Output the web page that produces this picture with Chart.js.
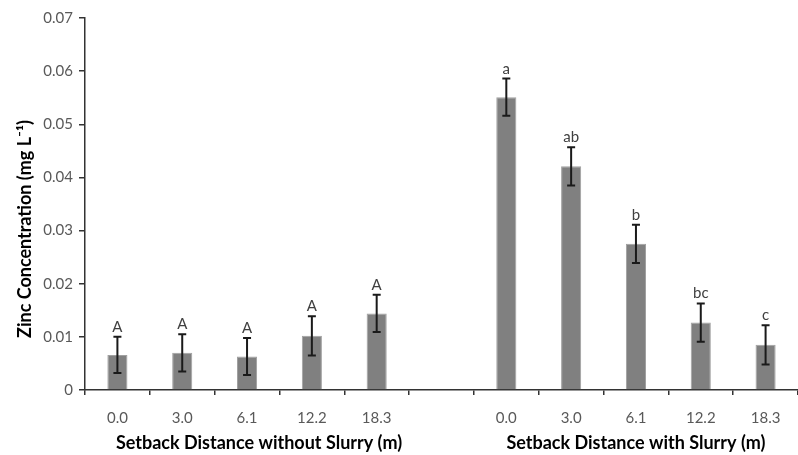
<!DOCTYPE html>
<html>
<head>
<meta charset="utf-8">
<script src="https://cdn.jsdelivr.net/npm/chart.js@4"></script>
<style>
  html, body { margin: 0; padding: 0; background: #fff; overflow: hidden; }
  #wrap { width: 798px; height: 455px; }
</style>
</head>
<body>
<div id="wrap"><canvas id="chart1"></canvas></div>
<script>
const distances = ["0.0","3.0","6.1","12.2","18.3","","0.0","3.0","6.1","12.2","18.3"];
const zinc = [0.0066, 0.0070, 0.0063, 0.0102, 0.0144, null, 0.0551, 0.0421, 0.0275, 0.0127, 0.0085];
const zincErr = [0.0034, 0.0035, 0.0035, 0.0037, 0.0035, null, 0.0035, 0.0036, 0.0036, 0.0036, 0.0037];
const letters = ["A","A","A","A","A","","a","ab","b","bc","c"];
const groupNames = ["Setback Distance without Slurry (m)", "Setback Distance with Slurry (m)"];
const groupRanges = [[0, 4], [6, 10]];
const yTicks = [0, 0.01, 0.02, 0.03, 0.04, 0.05, 0.06, 0.07];
const yTitle = "Zinc Concentration (mg L⁻¹)";

const fontName = "Lato, 'Open Sans', sans-serif";

// error bars, letters, group titles and the y title
const extras = {
  id: "extras",
  afterDatasetsDraw(chart) {
    const ctx = chart.ctx;
    const x = chart.scales.x, y = chart.scales.y;
    ctx.save();
    zinc.forEach((v, i) => {
      if (v == null) return;
      const px = x.getPixelForValue(i);
      const top = y.getPixelForValue(v + zincErr[i]);
      const bot = y.getPixelForValue(v - zincErr[i]);
      ctx.strokeStyle = "#1a1a1a";
      ctx.lineWidth = 2;
      ctx.beginPath();
      ctx.moveTo(px, top); ctx.lineTo(px, bot);
      ctx.moveTo(px - 4, top); ctx.lineTo(px + 4, top);
      ctx.moveTo(px - 4, bot); ctx.lineTo(px + 4, bot);
      ctx.stroke();
      ctx.fillStyle = "#404040";
      ctx.font = "15px " + fontName;
      ctx.textAlign = "center";
      ctx.textBaseline = "alphabetic";
      ctx.fillText(letters[i], px, top - 5);
    });

    ctx.fillStyle = "#000";
    ctx.font = "bold 18px " + fontName;
    ctx.textAlign = "center";
    ctx.textBaseline = "middle";
    const shift = [12, 0];
    groupNames.forEach((name, g) => {
      const [a, b] = groupRanges[g];
      const cx = (x.getPixelForValue(a) + x.getPixelForValue(b)) / 2 + shift[g];
      ctx.fillText(name, cx, 443);
    });

    ctx.translate(25, 229);
    ctx.rotate(-Math.PI / 2);
    ctx.font = "bold 18px " + fontName;
    ctx.fillText(yTitle, 0, 0);
    ctx.restore();
  }
};

const ctx1 = document.getElementById("chart1").getContext("2d");
new Chart(ctx1, {
  type: "bar",
  data: {
    labels: distances,
    datasets: [{
      data: zinc,
      backgroundColor: "#808080",
      borderColor: "#a0a0a0",
      borderWidth: 1,
      barPercentage: 0.31,
      categoryPercentage: 1
    }]
  },
  options: {
    responsive: true,
    maintainAspectRatio: false,
    animation: false,
    layout: { padding: { top: 18, left: 0, right: 0, bottom: 0 } },
    plugins: { legend: { display: false }, tooltip: { enabled: false } },
    scales: {
      x: {
        offset: true,
        grid: { display: true, drawOnChartArea: false, drawTicks: true, tickLength: 5, color: "#333", lineWidth: 1.5, offset: true },
        border: { color: "#333", width: 1.5 },
        ticks: { color: "#595959", font: { family: fontName, size: 15 }, padding: 14, maxRotation: 0, autoSkip: false },
        afterFit(scale) { scale.height = 65; }
      },
      y: {
        min: 0,
        max: 0.07,
        afterBuildTicks(scale) { scale.ticks = yTicks.map(v => ({ value: v })); },
        grid: { drawOnChartArea: false, drawTicks: true, tickLength: 6, color: "#333", lineWidth: 1.5 },
        border: { color: "#333", width: 1.5 },
        ticks: {
          color: "#595959",
          font: { family: fontName, size: 15 },
          padding: 6,
          callback: v => v === 0 ? "0" : v.toFixed(2)
        },
        afterFit(scale) { scale.width = 85; }
      }
    }
  },
  plugins: [extras]
});
</script>
</body>
</html>
